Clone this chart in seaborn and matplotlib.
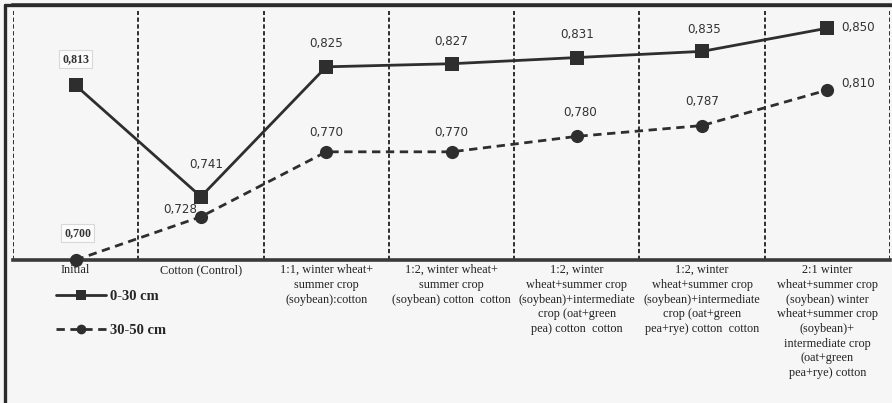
import numpy as np
import pandas as pd
import matplotlib
matplotlib.use("Agg")
import matplotlib.pyplot as plt
from matplotlib.lines import Line2D
import seaborn as sns

# data
categories = [
    "Initial",
    "Cotton (Control)",
    "1:1, winter wheat+\nsummer crop\n(soybean):cotton",
    "1:2, winter wheat+\nsummer crop\n(soybean) cotton  cotton",
    "1:2, winter\nwheat+summer crop\n(soybean)+intermediate\ncrop (oat+green\npea) cotton  cotton",
    "1:2, winter\nwheat+summer crop\n(soybean)+intermediate\ncrop (oat+green\npea+rye) cotton  cotton",
    "2:1 winter\nwheat+summer crop\n(soybean) winter\nwheat+summer crop\n(soybean)+\nintermediate crop\n(oat+green\npea+rye) cotton",
]
depth_0_30 = [0.813, 0.741, 0.825, 0.827, 0.831, 0.835, 0.850]
depth_30_50 = [0.700, 0.728, 0.770, 0.770, 0.780, 0.787, 0.810]
series_names = ["0-30 cm", "30-50 cm"]

# label offsets in pixels (dx, dy) - layout only
off_0_30 = [(0, 26), (5, 32), (0, 23), (0, 22), (0, 23), (2, 22), (31, 1)]
off_30_50 = [(2, 27), (-21, 7), (0, 19), (0, 19), (3, 24), (0, 24), (31, 6)]

dark = "#2e2e2e"
bg = "#f6f6f6"

df = pd.DataFrame({
    "pos": list(range(len(categories))) * 2,
    "value": depth_0_30 + depth_30_50,
    "depth": [series_names[0]] * len(categories) + [series_names[1]] * len(categories),
})

sns.set_style("white")
plt.rcParams["font.family"] = ["DejaVu Sans"]

fig = plt.figure(figsize=(8.92, 4.03), dpi=100, facecolor=bg)
ax = fig.add_axes([13 / 892, 143 / 403, 877 / 892, 255 / 403])
ax.set_facecolor(bg)

sns.lineplot(data=df, x="pos", y="value", style="depth",
             markers={series_names[0]: "s", series_names[1]: "o"},
             dashes={series_names[0]: "", series_names[1]: (3, 2)},
             color=dark, lw=2.0, markersize=9.5, markeredgewidth=0,
             legend=False, ax=ax, clip_on=False, zorder=3)

ax.set_xlim(-0.5, len(categories) - 0.5)
ax.set_ylim(0.700, 0.865)

# dashed separators
ax.vlines(np.arange(-0.5, len(categories)), 0.700, 0.861,
          colors=dark, linestyles=(0, (2.2, 1.3)), lw=1.4, zorder=1)

for sp in ["left", "right"]:
    ax.spines[sp].set_visible(False)
ax.spines["bottom"].set_linewidth(2.6)
ax.spines["bottom"].set_color("#3a3a3a")
ax.spines["top"].set_linewidth(2.6)
ax.spines["top"].set_color("#3a3a3a")

ax.set_yticks([])
ax.set_xticks(range(len(categories)))
ax.set_xticklabels(categories, family="Liberation Serif", fontsize=8.8,
                   color="#222222", linespacing=1.3, va="top")
ax.tick_params(axis="x", length=0, pad=3)
ax.set_xlabel("")
ax.set_ylabel("")

boxed = {0}
for vals, offs in [(depth_0_30, off_0_30), (depth_30_50, off_30_50)]:
    for i, (v, (dx, dy)) in enumerate(zip(vals, offs)):
        txt = ("%.3f" % v).replace(".", ",")
        kw = {}
        if i in boxed:
            kw["bbox"] = dict(boxstyle="square,pad=0.25", fc="#fbfbfb", ec="#d8d8d8", lw=0.8)
            kw["fontweight"] = "bold"
            kw["family"] = "Liberation Serif"
        ax.annotate(txt, (i, v), xytext=(dx * 0.72, dy * 0.72), textcoords="offset points",
                    ha="center", va="center", fontsize=8.6, color="#333333",
                    annotation_clip=False, **kw)

# outer frame of the scanned figure
fig.add_artist(Line2D([5 / 892, 5 / 892], [0, 1 - 5 / 403], color="#2a2a2a", lw=2.4,
                      transform=fig.transFigure))
fig.add_artist(Line2D([5 / 892, 1], [1 - 5 / 403, 1 - 5 / 403], color="#2a2a2a", lw=2.4,
                      transform=fig.transFigure))

handles = [
    Line2D([], [], color=dark, lw=2.0, marker="s", markersize=7, markeredgewidth=0),
    Line2D([], [], color=dark, lw=2.0, marker="o", markersize=7, markeredgewidth=0,
           linestyle=(0, (3, 2))),
]
fig.legend(handles, series_names, loc="upper left", bbox_to_anchor=(56 / 892, 1 - 290 / 403),
           frameon=False, borderaxespad=0, borderpad=0, handlelength=3.4,
           handletextpad=0.3, labelspacing=1.4,
           prop={"family": "Liberation Serif", "weight": "bold", "size": 10.5})

fig.savefig("out.png", dpi=100, facecolor=bg)
